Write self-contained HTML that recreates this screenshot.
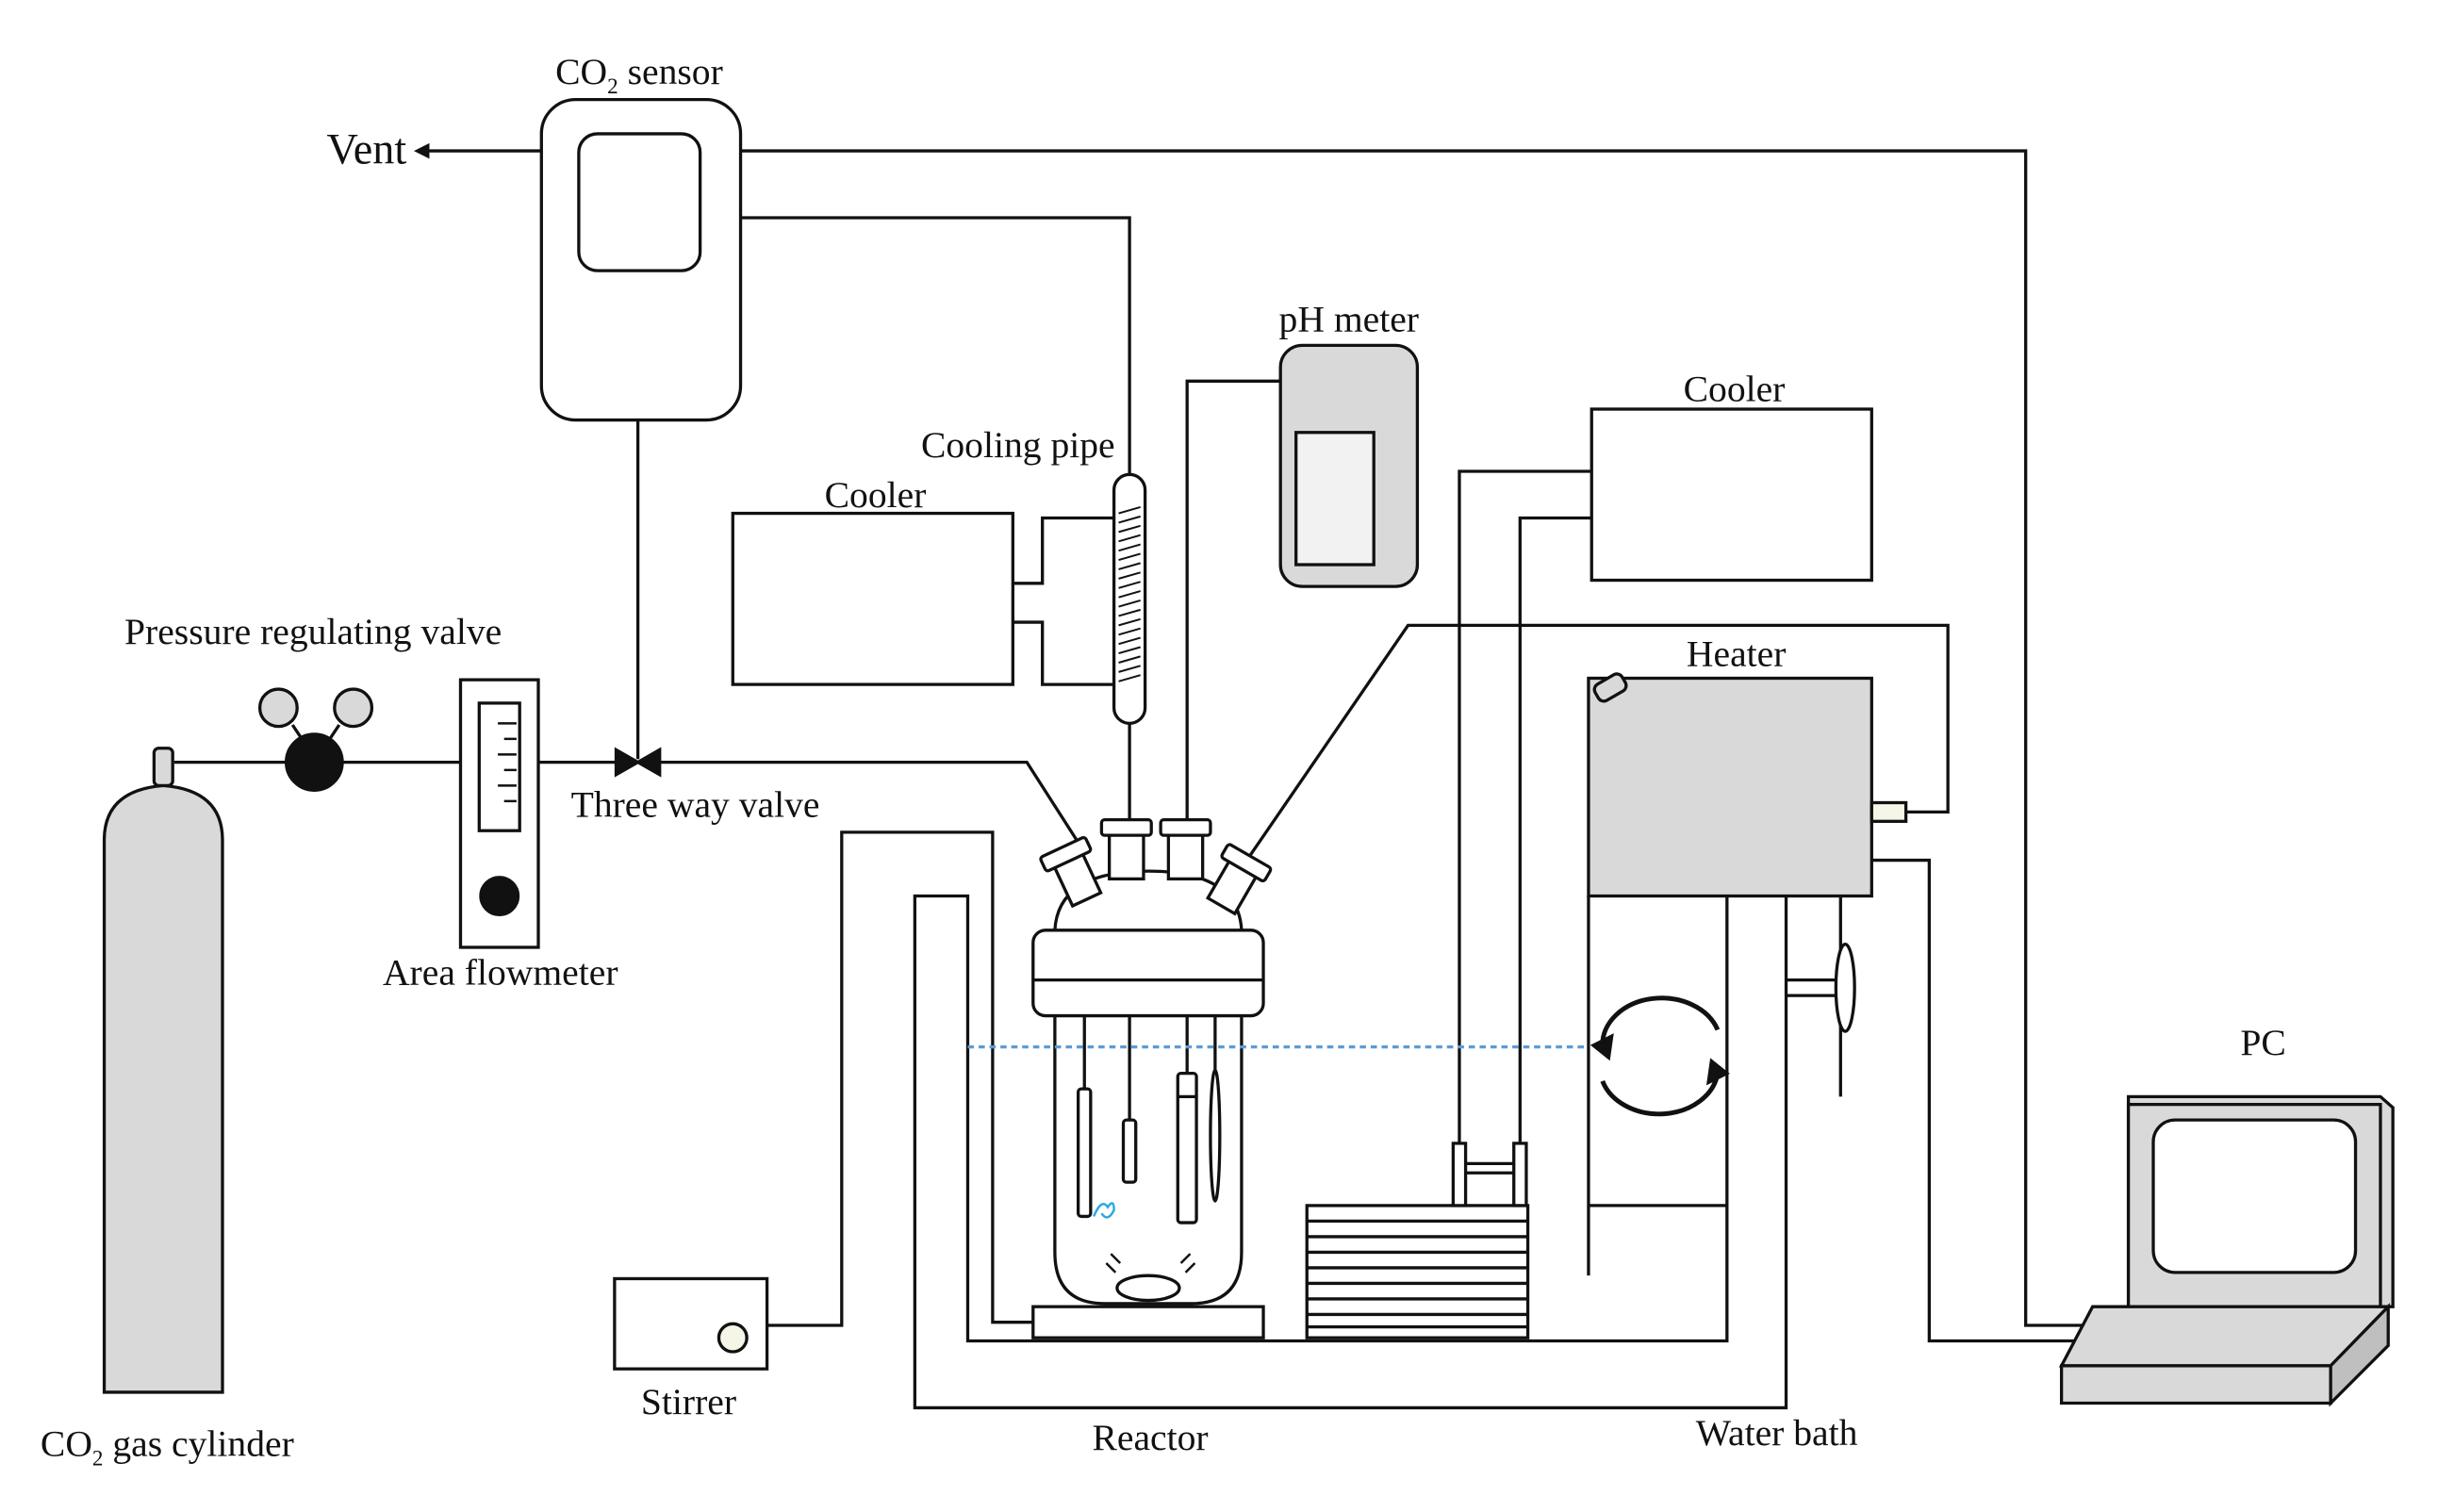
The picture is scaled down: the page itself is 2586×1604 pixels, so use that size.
<!DOCTYPE html>
<html><head><meta charset="utf-8"><style>
html,body{margin:0;padding:0;background:#fff;}
svg{display:block;}
text{font-family:"Liberation Serif",serif;font-size:24px;fill:#111;}
</style></head><body>
<svg width="2586" height="1604" viewBox="0 0 1567 972" preserveAspectRatio="none" xmlns="http://www.w3.org/2000/svg">
<g fill="none" stroke="#111" stroke-width="2">
<rect x="348" y="64" width="128" height="206" rx="22" fill="#fff"/>
<rect x="372" y="86" width="78" height="88" rx="12"/>
<line x1="348" y1="97" x2="272" y2="97"/>
<path d="M476,97 H1302 V852 H1345"/>
<path d="M476,140 H726 V305"/>
<line x1="410" y1="270" x2="410" y2="488"/>
<path d="M112,490 H660 L692,540"/>
<path d="M67,895 V540 Q67,508 105,505 Q143,508 143,540 V895 Z" fill="#d9d9d9"/>
<rect x="99" y="481" width="12" height="24" rx="3" fill="#d9d9d9"/>
<line x1="188" y1="466" x2="196" y2="478"/><line x1="218" y1="466" x2="210" y2="478"/>
<circle cx="179" cy="455" r="12" fill="#d9d9d9"/>
<circle cx="227" cy="455" r="12" fill="#d9d9d9"/>
<circle cx="202" cy="490" r="18" fill="#111"/>
<rect x="296" y="437" width="50" height="172" fill="#fff"/>
<rect x="308" y="452" width="26" height="82" fill="#fff"/>
<g stroke-width="1.5"><line x1="320" y1="465" x2="332" y2="465"/><line x1="324" y1="475" x2="332" y2="475"/><line x1="320" y1="485" x2="332" y2="485"/><line x1="324" y1="495" x2="332" y2="495"/><line x1="320" y1="505" x2="332" y2="505"/><line x1="324" y1="515" x2="332" y2="515"/></g>
<circle cx="321" cy="576" r="12" fill="#111"/>
<path d="M396,482 L424,498 V482 L396,498 Z" fill="#111"/>
<rect x="471" y="330" width="180" height="110" fill="#fff"/>
<path d="M651,375 H670 V333 H718"/><path d="M651,400 H670 V440 H718"/>
<rect x="716" y="305" width="20" height="160" rx="10" fill="#fff"/>
<g stroke-width="1.2"><path d="M719,330 L733,326 M719,336 L733,332 M719,342 L733,338 M719,348 L733,344 M719,354 L733,350 M719,360 L733,356 M719,366 L733,362 M719,372 L733,368 M719,378 L733,374 M719,384 L733,380 M719,390 L733,386 M719,396 L733,392 M719,402 L733,398 M719,408 L733,404 M719,414 L733,410 M719,420 L733,416 M719,426 L733,422 M719,432 L733,428 M719,438 L733,434"/></g>
<line x1="726" y1="465" x2="726" y2="530"/>
<rect x="823" y="222" width="88" height="155" rx="14" fill="#d9d9d9"/>
<rect x="833" y="278" width="50" height="85" fill="#f2f2f2"/>
<path d="M823,245 H763 V530"/>
<rect x="1023" y="263" width="180" height="110" fill="#fff"/>
<path d="M1023,303 H938 V740"/><path d="M1023,333 H977 V740"/>
<rect x="1021" y="436" width="182" height="140" fill="#d9d9d9"/>
<rect x="1025" y="436" width="20" height="12" rx="4" transform="rotate(-30 1035 442)" fill="#d9d9d9"/>
<rect x="1203" y="516" width="22" height="12" fill="#f5f5e8"/>
<path d="M1225,522 H1252 V402 H905 L800,555"/>
<path d="M1203,553 H1240 V862 H1345"/>
<path d="M1021,576 V820"/><path d="M1021,775 H1110"/><path d="M1110,576 V862 H622 V576 H588 V905 H1148 V576"/>
<path d="M1183,576 V705"/><path d="M1148,630 H1183 M1148,640 H1183"/>
<ellipse cx="1186" cy="635" rx="6" ry="28" fill="#fff"/>
<g stroke-width="3"><path d="M1030,672 A38,30 0 0 1 1104,662"/><path d="M1104,690 A38,30 0 0 1 1030,695"/></g>
<path d="M1024,672 L1036,666 L1034,680 Z M1110,690 L1098,696 L1100,682 Z" fill="#111"/>
<rect x="395" y="822" width="98" height="58" fill="#fff"/>
<circle cx="471" cy="860" r="9" fill="#f5f5e8"/>
<path d="M493,852 H541 V535 H638 V850 H664"/>
<rect x="664" y="840" width="148" height="20" fill="#fff"/>
<path d="M678,652 V805 Q678,838 710,838 H766 Q798,838 798,805 V652" fill="#fff"/>
<path d="M678,598 Q680,560 738,560 Q796,560 798,598" fill="#fff"/>
<rect x="664" y="598" width="148" height="55" rx="8" fill="#fff"/>
<line x1="664" y1="630" x2="812" y2="630"/>
<rect x="713" y="535" width="22" height="30" fill="#fff"/><rect x="708" y="527" width="32" height="10" rx="2" fill="#fff"/>
<rect x="751" y="535" width="22" height="30" fill="#fff"/><rect x="746" y="527" width="32" height="10" rx="2" fill="#fff"/>
<g transform="rotate(-25 690 560)"><rect x="680" y="550" width="20" height="30" fill="#fff"/><rect x="674" y="543" width="32" height="10" rx="2" fill="#fff"/></g>
<g transform="rotate(30 795 565)"><rect x="785" y="555" width="20" height="30" fill="#fff"/><rect x="779" y="548" width="32" height="10" rx="2" fill="#fff"/></g>
<line x1="697" y1="653" x2="697" y2="700"/><rect x="693" y="700" width="8" height="82" rx="2" fill="#fff"/>
<line x1="726" y1="653" x2="726" y2="720"/><rect x="722" y="720" width="8" height="40" rx="2" fill="#fff"/>
<line x1="763" y1="653" x2="763" y2="690"/><rect x="757" y="690" width="12" height="96" rx="2" fill="#fff"/><line x1="757" y1="705" x2="769" y2="705"/>
<line x1="781" y1="653" x2="781" y2="690"/><ellipse cx="781" cy="730" rx="3" ry="42" fill="#fff"/>
<ellipse cx="738" cy="828" rx="20" ry="8" fill="#fff"/>
<path d="M711,812 L717,818 M714,806 L720,812 M765,806 L759,812 M768,812 L762,818" stroke-width="1.5"/>
<path d="M703,782 Q708,770 712,776 Q716,770 716,778 Q712,786 708,780" stroke="#2aa8e0" stroke-width="1.5"/>
<line x1="622" y1="673" x2="1020" y2="673" stroke="#5b9bd5" stroke-width="2" stroke-dasharray="4,3"/>
<rect x="840" y="775" width="142" height="85" fill="#fff"/>
<path d="M840,785 H982 M840,795 H982 M840,805 H982 M840,815 H982 M840,825 H982 M840,835 H982 M840,845 H982 M840,853 H982"/>
<rect x="934" y="735" width="8" height="40" fill="#fff"/><rect x="973" y="735" width="8" height="40" fill="#fff"/>
<path d="M942,748 H973 M942,754 H973"/>
<path d="M1368,705 H1530 L1538,712 V840 H1368 Z" fill="#d9d9d9"/>
<rect x="1368" y="710" width="162" height="130" fill="#d9d9d9"/>
<rect x="1384" y="720" width="130" height="98" rx="14" fill="#fff"/>
<path d="M1345,840 H1535 L1498,878 H1325 Z" fill="#d9d9d9"/>
<path d="M1325,878 H1498 V902 H1325 Z" fill="#d9d9d9"/>
<path d="M1498,878 L1535,840 V865 L1498,902 Z" fill="#bfbfbf"/>
</g>
<path d="M266,97 L276,92 L276,102 Z" fill="#111"/>
<text x="210" y="105" style="font-size:28px">Vent</text>
<text x="357" y="54">CO<tspan dy="6" style="font-size:14px">2</tspan><tspan dy="-6"> sensor</tspan></text>
<text x="592" y="294">Cooling pipe</text>
<text x="530" y="326">Cooler</text>
<text x="822" y="213">pH meter</text>
<text x="1082" y="258">Cooler</text>
<text x="1084" y="428">Heater</text>
<text x="80" y="414">Pressure regulating valve</text>
<text x="367" y="525">Three way valve</text>
<text x="246" y="633">Area flowmeter</text>
<text x="1440" y="678">PC</text>
<text x="412" y="909">Stirrer</text>
<text x="702" y="932">Reactor</text>
<text x="1090" y="929">Water bath</text>
<text x="26" y="936">CO<tspan dy="6" style="font-size:14px">2</tspan><tspan dy="-6"> gas cylinder</tspan></text>
</svg>
</body></html>
